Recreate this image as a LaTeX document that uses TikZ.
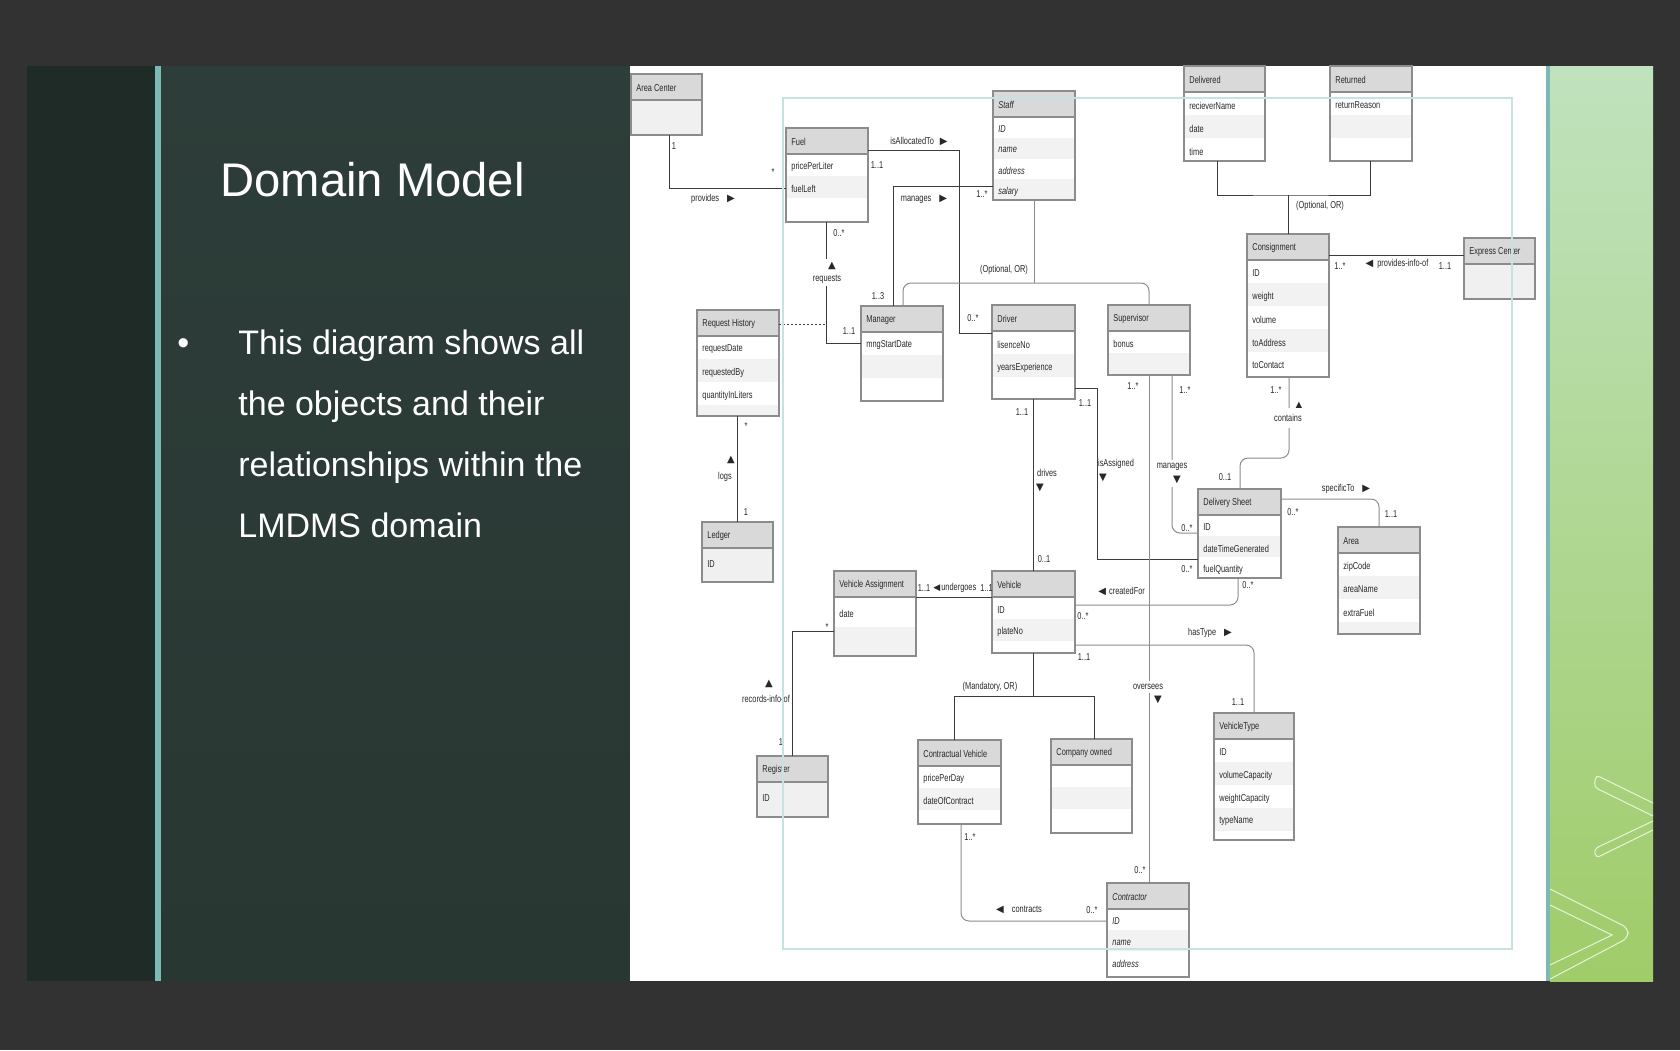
\documentclass[tikz,border=0pt]{standalone}
\usepackage{fontspec}
\setmainfont{Liberation Sans}
\newfontfamily\umlfont{Liberation Sans}[FakeStretch=0.74]
\newfontfamily\symfont{DejaVu Sans}
\usetikzlibrary{calc}

\definecolor{pagebg}{RGB}{50,50,50}
\definecolor{stripdark}{RGB}{31,43,39}
\definecolor{tealbar}{RGB}{125,185,180}
\definecolor{paneltop}{RGB}{45,61,57}
\definecolor{panelbot}{RGB}{41,55,50}
\definecolor{greentop}{RGB}{192,226,190}
\definecolor{greenbot}{RGB}{160,204,105}
\definecolor{boxgray}{RGB}{140,140,140}
\definecolor{headfill}{RGB}{217,217,217}
\definecolor{rowfill}{RGB}{242,242,242}
\definecolor{plainfill}{RGB}{240,240,240}
\definecolor{textgray}{RGB}{40,40,40}
\definecolor{linedark}{RGB}{60,60,60}
\definecolor{linegray}{RGB}{140,140,140}
\definecolor{framecol}{RGB}{200,225,225}

\newcommand{\umltext}{\umlfont\fontsize{5}{6}\selectfont}
\newcommand{\rtri}{{\symfont\fontsize{5}{5}\selectfont ▶}}
\newcommand{\ltri}{{\symfont\fontsize{5}{5}\selectfont ◀}}
\newcommand{\utri}{{\symfont\fontsize{5}{5}\selectfont ▲}}
\newcommand{\dtri}{{\symfont\fontsize{5}{5}\selectfont ▼}}

% class box: name, x, y, width, height, title, row height, rows, body fill
\newcommand{\umlclass}[9]{%
  \fill[#9] (#2,#3) rectangle ++(#4,#5);
  \foreach \attrname [count=\i] in {#8} {
    \ifodd\i\else
      \fill[rowfill] (#2,{#3+26+(\i-1)*#7}) rectangle ({#2+#4},{min(#3+26+\i*#7,#3+#5)});
    \fi
    \node[attr] at ({#2+5},{#3+28+(\i-0.5)*#7}) {\attrname};
  }
  \fill[headfill] (#2,#3) rectangle ++(#4,26);
  \draw[boxgray,line width=0.55pt] (#2,{#3+26}) -- ++(#4,0);
  \node[attr] at ({#2+5},{#3+14}) {#6};
  \node[classbox,minimum width=#4*0.5pt,minimum height=#5*0.5pt] (#1) at (#2,#3) {};
}

\begin{document}
\begin{tikzpicture}[x=0.5pt,y=-0.5pt,
  classbox/.style={draw=boxgray,line width=0.55pt,anchor=north west,inner sep=0pt,outer sep=0pt},
  attr/.style={anchor=west,inner sep=0pt,text=textgray,font=\umltext},
  lbl/.style={inner sep=0.5pt,text=textgray,font=\umltext},
  lblw/.style={lbl,fill=white,inner sep=1.5pt},
  assoc/.style={draw=linedark,line width=0.5pt},
  assocg/.style={draw=linegray,line width=0.5pt,rounded corners=4pt},
  slidetext/.style={text=white,inner sep=0pt,anchor=base west}]
\useasboundingbox (0,0) rectangle (1680,1050);

%Shape: Rectangle [slide background]
\fill[pagebg] (0,0) rectangle (1680,1050);
\fill[stripdark] (27,66) rectangle (155,981);
\fill[tealbar] (155,66) rectangle (161,981);
\shade[top color=paneltop,bottom color=panelbot] (161,66) rectangle (630,981);
\fill[white] (630,66) rectangle (1546,981);
\fill[tealbar] (1546,66) rectangle (1550,981);
\shade[top color=greentop,bottom color=greenbot] (1550,66) rectangle (1653,981);
%Shape: Chevrons
\draw[white,opacity=0.75,line width=0.5pt,rounded corners=2pt] (1653,803) -- (1596,775) -- (1594,787) -- (1653,816);
\draw[white,opacity=0.75,line width=0.5pt,rounded corners=2pt] (1653,821) -- (1594,849) -- (1596,858) -- (1653,830);
\draw[white,opacity=0.75,line width=0.5pt,rounded corners=3pt] (1550,889) -- (1628,928) -- (1628,938) -- (1550,979);
\draw[white,opacity=0.75,line width=0.5pt] (1550,905) -- (1612,935) -- (1550,965);

% Text Node
\node[slidetext,font=\fontsize{23.6}{28}\selectfont] (slidetitle) at (220,196) {Domain Model};
\node[slidetext,font=\fontsize{17}{20}\selectfont] (bullet) at (177,354) {•};
\foreach \txt [count=\k] in {This diagram shows all,the objects and their,relationships within the,LMDMS domain}
  \node[slidetext,font=\fontsize{17}{20}\selectfont] (bodyline\k) at (238,{354+61*(\k-1)}) {\txt};

%Shape: Class boxes
\umlclass{areacenter}{631}{74}{71}{61}{Area Center}{28}{{}}{plainfill}
\umlclass{fuel}{786}{128}{82}{94}{Fuel}{22}{pricePerLiter,fuelLeft,{}}{white}
\umlclass{staff}{993}{91}{82}{109}{\textit{Staff}}{20.75}{\textit{ID},\textit{name},\textit{address},\textit{salary}}{white}
\umlclass{delivered}{1184}{66}{81}{95}{Delivered}{23}{recieverName,date,time}{white}
\umlclass{returned}{1330}{66}{82}{95}{Returned}{23}{returnReason,{},{}}{white}
\umlclass{consignment}{1247}{234}{82}{143}{Consignment}{23}{ID,weight,volume,toAddress,toContact}{white}
\umlclass{express}{1464}{238}{71}{61}{Express Center}{28}{{}}{plainfill}
\umlclass{requesthist}{697}{310}{82}{106}{Request History}{23}{requestDate,requestedBy,quantityInLiters,{}}{white}
\umlclass{manager}{861}{306}{82}{95}{Manager}{23}{mngStartDate,{},{}}{white}
\umlclass{driver}{992}{305}{83}{94}{Driver}{23}{lisenceNo,yearsExperience,{}}{white}
\umlclass{supervisor}{1108}{305}{82}{70}{Supervisor}{22}{bonus,{}}{white}
\umlclass{ledger}{702}{522}{71}{60}{Ledger}{28}{ID}{plainfill}
\umlclass{deliverysheet}{1198}{489}{83}{89}{Delivery Sheet}{21}{ID,dateTimeGenerated,fuelQuantity}{white}
\umlclass{area}{1338}{527}{82}{107}{Area}{23}{zipCode,areaName,extraFuel,{}}{white}
\umlclass{va}{834}{571}{82}{85}{Vehicle Assignment}{29.5}{date,{}}{white}
\umlclass{vehicle}{992}{571}{83}{82}{Vehicle}{22}{ID,plateNo,{}}{white}
\umlclass{register}{757}{756}{71}{61}{Register}{28}{ID}{plainfill}
\umlclass{contractualvehicle}{918}{740}{83}{84}{Contractual Vehicle}{22}{pricePerDay,dateOfContract,{}}{white}
\umlclass{companyowned}{1051}{739}{81}{94}{Company owned}{22}{{},{},{}}{white}
\umlclass{vehicletype}{1214}{713}{80}{127}{VehicleType}{23}{ID,volumeCapacity,weightCapacity,typeName}{white}
\umlclass{contractor}{1107}{883}{82}{94}{\textit{Contractor}}{21}{\textit{ID},\textit{name},\textit{address}}{white}

%Straight Lines [provides]
\draw[assoc] ($(areacenter.south west)+(38,0)$) |- ($(fuel.north west)+(0,60)$);
\node[lbl] (provm1) at (674,146) {1};
\node[lbl] (provm2) at (773,172) {*};
\node[lbl] (provlbl) at (713,199) {provides\hspace{4pt}\rtri};
%Straight Lines [isAllocatedTo]
\draw[assoc] ($(fuel.north east)+(0,22)$) -- ++(91,0) |- ($(driver.north west)+(0,28)$);
\node[lbl] (alloclbl) at (919,141) {isAllocatedTo\hspace{3pt}\rtri};
\node[lbl] (allocm1) at (877,165) {1..1};
\node[lbl] (allocm2) at (973,318) {0..*};
%Straight Lines [manages staff]
\draw[assoc] ($(manager.north west)+(32,0)$) |- ($(staff.north west)+(0,95)$);
\node[lbl] (mngslbl) at (924,199) {manages\hspace{4pt}\rtri};
\node[lbl] (mngsm1) at (982,194) {1..*};
\node[lbl] (mngsm2) at (878,296) {1..3};
%Straight Lines [requests]
\coordinate (reqjoin) at ($(fuel.south west)+(40,102)$);
\draw[assoc] ($(fuel.south west)+(40,0)$) |- ($(manager.north west)+(0,37)$);
\draw[assoc,dash pattern=on 1pt off 1pt] ($(requesthist.north east)+(0,14)$) -- (reqjoin);
\node[lbl] (reqm1) at (839,233) {0..*};
\node[lblw] (reqtri) at (832,266) {\utri};
\node[lblw] (reqlbl) at (827,279) {requests};
\node[lbl] (reqm2) at (849,331) {1..1};
%Straight Lines [staff generalization]
\coordinate (staffjoin) at ($(staff.south)+(0,83)$);
\draw[assocg] (staff.south) -- (staffjoin);
\draw[assocg] ($(manager.north west)+(42,0)$) |- (staffjoin) -| (supervisor.north);
\node[lbl] (stafflbl) at (1004,270) {(Optional, OR)};
%Straight Lines [consignment generalization]
\coordinate (consjoin) at ($(consignment.north west)+(41,-39)$);
\draw[assoc] ($(delivered.south west)+(33,0)$) |- (consjoin) -| ($(returned.south west)+(40,0)$);
\draw[assoc] (consjoin) -- ($(consignment.north west)+(41,0)$);
\node[lbl] (conslbl) at (1320,206) {(Optional, OR)};
%Straight Lines [provides-info-of]
\draw[assoc] ($(consignment.north east)+(0,21)$) -- ($(express.north west)+(0,17)$);
\node[lbl] (infom1) at (1340,266) {1..*};
\node[lbl] (infolbl) at (1397,264) {\ltri\hspace{2pt}provides-info-of};
\node[lbl] (infom2) at (1445,266) {1..1};
%Straight Lines [logs]
\draw[assoc] ($(requesthist.south west)+(40,0)$) -- ($(ledger.north west)+(35,0)$);
\node[lbl] (logsm1) at (746,426) {*};
\node[lbl] (logstri) at (731,460) {\utri};
\node[lbl] (logslbl) at (725,477) {logs};
\node[lbl] (logsm2) at (746,512) {1};
%Straight Lines [drives]
\draw[assoc] (driver.south) -- (vehicle.north);
\node[lbl] (drvm1) at (1022,412) {1..1};
\node[lbl] (drvlbl) at (1047,473) {drives};
\node[lbl] (drvtri) at (1040,488) {\dtri};
\node[lbl] (drvm2) at (1044,559) {0..1};
%Straight Lines [isAssigned]
\draw[assoc] ($(driver.north east)+(0,83)$) -- ++(22,0) |- ($(deliverysheet.north west)+(0,70)$);
\node[lbl] (asgm1) at (1085,403) {1..1};
\node[lbl] (asglbl) at (1116,464) {isAssigned};
\node[lbl] (asgtri) at (1103,478) {\dtri};
\node[lbl] (asgm2) at (1187,569) {0..*};
%Straight Lines [oversees]
\draw[assocg] (supervisor.south) -- (supervisor.south |- contractor.north);
\node[lbl] (ovm1) at (1133,386) {1..*};
\node[lblw] (ovlbl) at (1148,687) {oversees};
\node[lblw] (ovtri) at (1158,700) {\dtri};
\node[lbl] (ovm2) at (1140,870) {0..*};
%Straight Lines [manages delivery sheet]
\draw[assocg] ($(supervisor.south west)+(64,0)$) |- ($(deliverysheet.north west)+(0,44)$);
\node[lbl] (mngdm1) at (1185,390) {1..*};
\node[lblw] (mngdlbl) at (1172,467) {manages};
\node[lblw] (mngdtri) at (1177,480) {\dtri};
\node[lbl] (mngdm2) at (1187,528) {0..*};
%Straight Lines [contains]
\draw[assocg] ($(consignment.south west)+(42,0)$) -- ++(0,81) -| ($(deliverysheet.north west)+(42,0)$);
\node[lbl] (contm1) at (1276,390) {1..*};
\node[lblw] (conttri) at (1299,406) {\utri};
\node[lblw,inner ysep=3pt] (contlbl) at (1288,418) {contains};
\node[lbl] (contm2) at (1225,477) {0..1};
%Straight Lines [specificTo]
\draw[assocg] ($(deliverysheet.north east)+(0,10)$) -| ($(area.north west)+(41,0)$);
\node[lbl] (speclbl) at (1346,489) {specificTo\hspace{4pt}\rtri};
\node[lbl] (specm1) at (1293,512) {0..*};
\node[lbl] (specm2) at (1391,514) {1..1};
%Straight Lines [createdFor]
\draw[assocg] ($(vehicle.north east)+(0,34)$) -| ($(deliverysheet.south west)+(40,0)$);
\node[lbl,anchor=west] (crlbl) at (1097,591) {\ltri\hspace{1.5pt}createdFor};
\node[lbl] (crm1) at (1083,616) {0..*};
\node[lbl] (crm2) at (1248,585) {0..*};
%Straight Lines [hasType]
\draw[assocg] ($(vehicle.north east)+(0,74)$) -| ($(vehicletype.north west)+(40,0)$);
\node[lbl] (typelbl) at (1210,633) {hasType\hspace{4pt}\rtri};
\node[lbl] (typem1) at (1084,657) {1..1};
\node[lbl] (typem2) at (1238,702) {1..1};
%Straight Lines [undergoes]
\draw[assoc] ($(va.north east)+(0,26)$) -- ($(vehicle.north west)+(0,26)$);
\node[lbl] (undm1) at (924,588) {1..1};
\node[lbl,anchor=west] (undlbl) at (932,588) {{\symfont\fontsize{4.5}{5}\selectfont ◀}\hspace{0.5pt}undergoes};
\node[lbl,anchor=west] (undm2) at (979,588) {1..1};
%Straight Lines [vehicle generalization]
\coordinate (vehjoin) at ($(vehicle.south)+(0,43)$);
\draw[assoc] (vehicle.south) -- (vehjoin);
\draw[assoc] ($(contractualvehicle.north west)+(36,0)$) |- (vehjoin) -| ($(companyowned.north west)+(43,0)$);
\node[lbl] (vehlbl) at (990,687) {(Mandatory, OR)};
%Straight Lines [contracts]
\draw[assocg] ($(contractualvehicle.south west)+(43,0)$) |- ($(contractor.north west)+(0,38)$);
\node[lbl] (ctrm1) at (970,837) {1..*};
\node[lbl] (ctrlbl) at (1019,910) {\ltri\hspace{4pt}contracts};
\node[lbl] (ctrm2) at (1092,910) {0..*};
%Straight Lines [records-info-of]
\draw[assoc] ($(va.north west)+(0,60)$) -| ($(register.north west)+(35,0)$);
\node[lbl] (recm1) at (827,627) {*};
\node[lbl] (rectri) at (769,684) {\utri};
\node[lbl] (reclbl) at (766,699) {records-info-of};
\node[lbl] (recm2) at (781,742) {1};

%Shape: Rectangle [frame]
\draw[framecol,line width=0.6pt] (783,98) rectangle (1512,949);
\end{tikzpicture}
\end{document}
